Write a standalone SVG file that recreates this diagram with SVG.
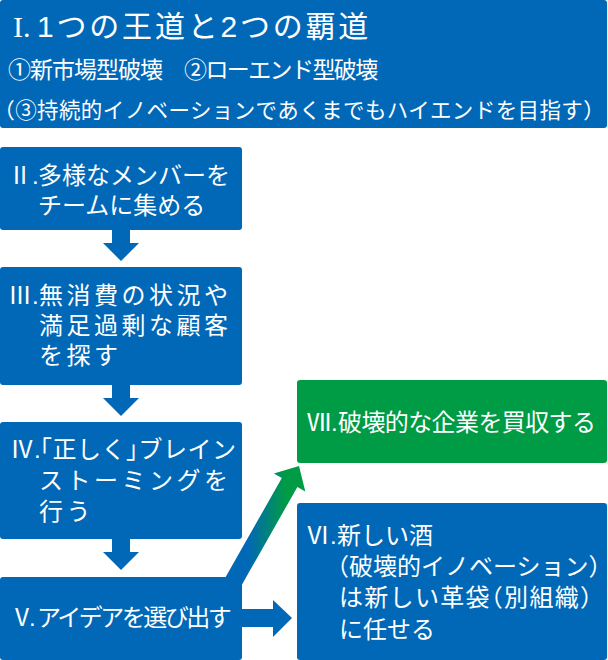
<svg xmlns="http://www.w3.org/2000/svg" width="608" height="660" viewBox="0 0 608 660">
<style>
  .blue { fill: #0068b7; }
  .green { fill: #009b45; }
  text { fill: #ffffff; font-family: "Liberation Sans", "Noto Sans CJK JP", sans-serif; font-size: 24px; }
  .ser { font-family: "Liberation Serif", "Noto Sans CJK JP", serif; }
  .t30 { font-size: 30px; }
  .t23 { font-size: 23px; }
  .t21 { font-size: 21.5px; }
  .sp { letter-spacing: 3.5px; }
  .halt { font-feature-settings: "halt" 1; }
</style>
<defs>
  <linearGradient id="diag" gradientUnits="userSpaceOnUse" x1="248" y1="0" x2="286" y2="0">
    <stop offset="0" stop-color="#0068b7"/>
    <stop offset="1" stop-color="#009b45"/>
  </linearGradient>
</defs>
<rect width="608" height="660" fill="#ffffff"/>
<g id="connectors">
  <polygon class="blue" points="112,230 130,230 130,243 139,243 121,261 103,243 112,243"/>
  <polygon class="blue" points="112,385 130,385 130,398 139,398 121,416 103,398 112,398"/>
  <polygon class="blue" points="112,539 130,539 130,552 139,552 121,570 103,552 112,552"/>
  <polygon class="blue" points="241,609 273,609 273,600 292,618 273,637 273,627 241,627"/>
  <polygon fill="url(#diag)" points="220.8,585.6 281.8,478.1 273.9,473.6 299,466 305.3,491.4 297.4,486.9 236.4,594.4"/>
</g>
<g id="node-1">
  <rect class="blue" x="0" y="0" width="607" height="128" rx="3"/>
  <text class="t30" y="37"><tspan class="ser" x="13">I.</tspan><tspan x="37" style="letter-spacing:2.8px">1つの王道と2つの覇道</tspan></text>
  <text class="t23" y="78"><tspan x="8" style="letter-spacing:-1px">①新市場型破壊</tspan><tspan x="184" style="letter-spacing:-1.6px">②ローエンド型破壊</tspan></text>
  <text class="t21 halt" x="4" y="118" style="letter-spacing:0.4px">（③持続的イノベーションであくまでもハイエンドを目指す）</text>
</g>
<g id="node-2">
  <rect class="blue" x="0" y="147" width="242" height="83" rx="3"/>
  <text y="184"><tspan x="8">Ⅱ.</tspan><tspan x="38">多様なメンバーを</tspan><tspan x="38" y="214">チームに集める</tspan></text>
</g>
<g id="node-3">
  <rect class="blue" x="0" y="267" width="242" height="118" rx="3"/>
  <text y="304"><tspan x="8">Ⅲ.</tspan><tspan class="sp" x="39">無消費の状況や</tspan><tspan class="sp" x="39" y="334">満足過剰な顧客</tspan><tspan class="sp" x="39" y="364">を探す</tspan></text>
</g>
<g id="node-4">
  <rect class="blue" x="0" y="422" width="242" height="117" rx="3"/>
  <text y="458"><tspan x="10">Ⅳ.</tspan><tspan class="halt" x="40" style="letter-spacing:0.5px">「正しく」ブレイン</tspan><tspan class="sp" x="39" y="489">ストーミングを</tspan><tspan class="sp" x="39" y="520">行う</tspan></text>
</g>
<g id="node-5">
  <rect class="blue" x="0" y="577" width="242" height="83" rx="3"/>
  <text y="626"><tspan x="10" style="letter-spacing:-5px">Ⅴ.</tspan><tspan x="37" style="letter-spacing:-2.5px">アイデアを選び出す</tspan></text>
</g>
<g id="node-7">
  <rect class="green" x="297" y="380" width="310" height="83" rx="3"/>
  <text y="431"><tspan x="307">Ⅶ.</tspan><tspan x="338" style="letter-spacing:-0.6px">破壊的な企業を買収する</tspan></text>
</g>
<g id="node-6">
  <rect class="blue" x="297" y="503" width="310" height="157" rx="3"/>
  <text y="544"><tspan x="306">Ⅵ.</tspan><tspan x="337">新しい酒</tspan><tspan class="halt" x="337" y="575">（破壊的イノベーション）</tspan><tspan class="halt" x="339" y="606" style="letter-spacing:1.3px">は新しい革袋（別組織）</tspan><tspan x="339" y="638">に任せる</tspan></text>
</g>
</svg>
